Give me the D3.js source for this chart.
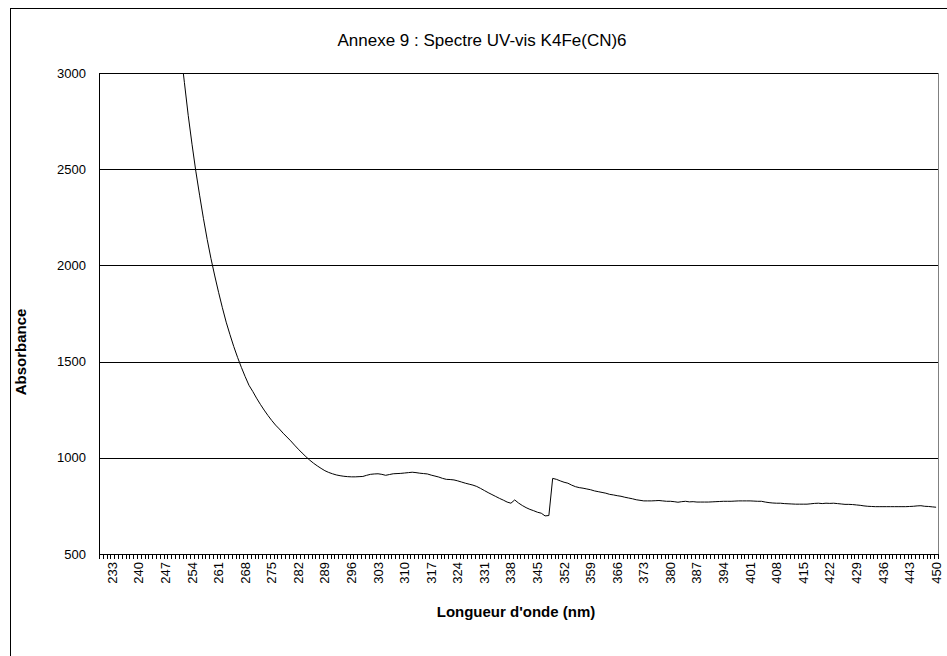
<!DOCTYPE html>
<html><head><meta charset="utf-8">
<script src="https://cdn.jsdelivr.net/npm/d3@7"></script>
<style>body{margin:0;background:#fff;} text{font-family:Arial,"Liberation Sans",sans-serif;}</style>
</head><body><svg id="c" width="947" height="656"></svg>
<script>
const title = "Annexe 9 : Spectre UV-vis K4Fe(CN)6";
const xTitle = "Longueur d'onde (nm)";
const yTitle = "Absorbance";
const wavelengths = d3.range(230, 451);
const absorbance = [
 8400,7900,7400,7000,6600,6250,5900,5600,5300,5050,
 4800,4600,4400,4220,4060,3900,3750,3610,3480,3360,
 3250,3120,2950,2780,2630,2490,2365,2245,2135,2035,
 1945,1860,1780,1705,1640,1578,1522,1470,1422,1377,
 1345,1310,1278,1248,1220,1194,1170,1150,1128,1108,
 1088,1066,1045,1025,1006,988,972,958,945,933,
 924,917,911,907,904,902,901,901,902,903,
 909,914,916,917,914,909,913,917,918,919,
 921,923,925,923,920,918,916,910,905,900,
 893,888,887,885,880,874,868,863,858,851,
 841,830,819,809,799,789,780,770,764,781,
 765,752,741,732,725,717,712,698,700,893,
 888,880,873,868,858,850,845,842,838,834,
 828,824,820,816,810,807,803,800,795,791,
 787,782,779,776,776,776,777,778,776,774,
 774,772,769,772,774,771,772,770,770,770,
 770,771,772,773,774,774,774,775,776,776,
 776,776,775,774,774,770,767,765,764,764,
 762,761,760,759,759,759,759,761,763,764,
 762,764,763,764,762,760,758,758,757,755,
 753,750,748,747,746,746,746,746,746,746,
 746,746,746,747,748,750,751,748,747,745,
 743
];
const yTicks = [500, 1000, 1500, 2000, 2500, 3000];
const xLabels = d3.range(233, 451, 7);

const svg = d3.select("#c");
const L = 99, T = 73, R = 938, B = 554;
const x = d3.scaleLinear().domain([229.5, 450.5]).range([L, R]);
const y = d3.scaleLinear().domain([500, 3000]).range([B, T]);

// outer chart frame
svg.append("rect").attr("x", 10.5).attr("y", 8.5).attr("width", 1000).attr("height", 800)
  .attr("fill", "#fff").attr("stroke", "#000").attr("stroke-width", 1);

// plot area border
svg.append("rect").attr("x", L + 0.5).attr("y", T + 0.5).attr("width", R - L).attr("height", B - T)
  .attr("fill", "none").attr("stroke", "#808080").attr("shape-rendering", "crispEdges");

// gridlines
svg.append("g").selectAll("line").data(yTicks.filter(d => d > 500)).join("line")
  .attr("x1", L).attr("x2", R).attr("y1", d => Math.round(y(d)) + 0.5).attr("y2", d => Math.round(y(d)) + 0.5)
  .attr("stroke", "#000").attr("shape-rendering", "crispEdges");

// y labels
svg.append("g").selectAll("text").data(yTicks).join("text")
  .attr("x", 86).attr("y", d => y(d)).attr("dy", "0.35em").attr("text-anchor", "end")
  .attr("font-size", 13).attr("fill", "#000").text(d => d);

// axes lines
svg.append("line").attr("x1", L + 0.5).attr("x2", L + 0.5).attr("y1", T).attr("y2", B + 1)
  .attr("stroke", "#000").attr("shape-rendering", "crispEdges");
svg.append("line").attr("x1", L).attr("x2", R + 1).attr("y1", B + 0.5).attr("y2", B + 0.5)
  .attr("stroke", "#000").attr("shape-rendering", "crispEdges");

// x minor ticks
svg.append("g").selectAll("line").data(d3.range(229.5, 451, 1)).join("line")
  .attr("x1", d => Math.round(x(d)) + 0.5).attr("x2", d => Math.round(x(d)) + 0.5)
  .attr("y1", B).attr("y2", B + 5).attr("stroke", "#000").attr("shape-rendering", "crispEdges");

// x labels
svg.append("g").selectAll("text").data(xLabels).join("text")
  .attr("transform", d => `translate(${x(d)},${B + 8}) rotate(-90)`)
  .attr("dy", "0.35em").attr("text-anchor", "end").attr("font-size", 13).attr("fill", "#000").text(d => d);

// data line
svg.append("clipPath").attr("id", "clip").append("rect").attr("x", L).attr("y", T).attr("width", R - L).attr("height", B - T);
const data = wavelengths.map((w, i) => [w, absorbance[i]]);
svg.append("path").datum(data).attr("clip-path", "url(#clip)")
  .attr("fill", "none").attr("stroke", "#000").attr("stroke-width", 1)
  .attr("d", d3.line().x(d => x(d[0])).y(d => y(d[1])));

// titles
svg.append("text").attr("x", 482).attr("y", 46).attr("text-anchor", "middle").attr("font-size", 17).text(title);
svg.append("text").attr("x", 516).attr("y", 617).attr("text-anchor", "middle").attr("font-size", 15).attr("font-weight", "bold").text(xTitle);
svg.append("text").attr("transform", "translate(26,352) rotate(-90)").attr("text-anchor", "middle").attr("font-size", 15).attr("font-weight", "bold").text(yTitle);
</script></body></html>
